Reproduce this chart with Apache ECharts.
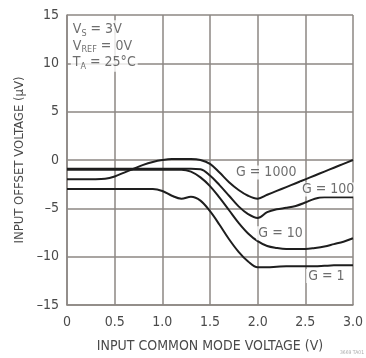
<!DOCTYPE html>
<html>
<head>
<meta charset="utf-8">
<script src="https://cdn.jsdelivr.net/npm/echarts@6/dist/echarts.min.js"></script>
<style>
html,body{margin:0;padding:0;background:#fff;}
#chart{width:366px;height:358px;}
</style>
</head>
<body>
<div id="chart"></div>
<script>
// Input common mode voltage (V)
const vcm = [0,0.1,0.2,0.3,0.4,0.5,0.6,0.7,0.8,0.9,1.0,1.1,1.2,1.3,1.4,1.5,1.6,1.7,1.8,1.9,2.0,2.1,2.2,2.3,2.4,2.5,2.6,2.7,2.8,2.9,3.0];
// Input offset voltage (uV) per gain
const g1000 = [-2.0,-2.0,-2.0,-2.0,-1.95,-1.7,-1.3,-0.9,-0.5,-0.2,0,0.1,0.1,0.1,0,-0.4,-1.3,-2.3,-3.1,-3.7,-4.0,-3.6,-3.2,-2.8,-2.4,-2.0,-1.6,-1.2,-0.8,-0.4,0];
const g100 = [-0.9,-0.9,-0.9,-0.9,-0.9,-0.9,-0.9,-0.9,-0.9,-0.9,-0.9,-0.9,-0.9,-0.9,-0.95,-1.6,-2.6,-3.7,-4.8,-5.6,-6.0,-5.4,-5.1,-4.95,-4.75,-4.4,-4.0,-3.85,-3.85,-3.85,-3.85];
const g10 = [-1.0,-1.0,-1.0,-1.0,-1.0,-1.0,-1.0,-1.0,-1.0,-1.0,-1.0,-1.0,-1.0,-1.2,-1.8,-2.7,-3.9,-5.2,-6.5,-7.6,-8.4,-8.9,-9.1,-9.2,-9.2,-9.2,-9.1,-8.95,-8.7,-8.45,-8.1];
const g1 = [-3.0,-3.0,-3.0,-3.0,-3.0,-3.0,-3.0,-3.0,-3.0,-3.0,-3.2,-3.7,-4.0,-3.8,-4.2,-5.3,-6.7,-8.2,-9.5,-10.5,-11.1,-11.1,-11.05,-11.0,-11.0,-11.0,-11.0,-10.95,-10.9,-10.9,-10.9];
// Curve labels: [x, y, text]
const curveLabels = [[2.09,-1.29,'G = 1000'],[2.74,-3.04,'G = 100'],[2.24,-7.58,'G = 10'],[2.72,-12.0,'G = 1']];
// Axis ticks
const xTicks = {min:0,max:3,interval:0.5};
const yTicks = {min:-15,max:15,interval:5};

const FONT = '"DejaVu Sans Condensed","Liberation Sans Narrow",sans-serif';
const TXT = '#4a4a4a';
const GRID = '#8c8783';

function pairs(ys){ return vcm.map((x,i)=>[x,ys[i]]); }
function lineSeries(ys){
  return {type:'line',data:pairs(ys),smooth:0.35,showSymbol:false,symbol:'none',
    lineStyle:{color:'#1e1e1e',width:2},z:3,silent:true};
}

const chart = echarts.init(document.getElementById('chart'),null,{renderer:'canvas'});
chart.setOption({
  animation:false,
  backgroundColor:'#fff',
  grid:{left:67,right:9,top:15,bottom:52,show:false},
  xAxis:{type:'value',min:xTicks.min,max:xTicks.max,interval:xTicks.interval,
    name:'INPUT COMMON MODE VOLTAGE (V)',nameLocation:'middle',nameGap:34,
    nameTextStyle:{color:TXT,fontFamily:FONT,fontSize:14},
    axisLine:{show:true,onZero:false,lineStyle:{color:GRID,width:1.5}},
    axisTick:{show:false},
    axisLabel:{color:TXT,fontFamily:FONT,fontSize:14,margin:10,
      formatter:v=>v===0?'0':v.toFixed(1)},
    splitLine:{show:true,lineStyle:{color:GRID,width:1.5}}},
  yAxis:{type:'value',min:yTicks.min,max:yTicks.max,interval:yTicks.interval,
    name:'INPUT OFFSET VOLTAGE (µV)',nameLocation:'middle',nameGap:40,
    nameTextStyle:{color:TXT,fontFamily:FONT,fontSize:13},
    axisLine:{show:true,onZero:false,lineStyle:{color:GRID,width:1.5}},
    axisTick:{show:false},
    axisLabel:{color:TXT,fontFamily:FONT,fontSize:14,margin:8,
      formatter:v=>v<0?'\u2013'+(-v):String(v)},
    splitLine:{show:true,lineStyle:{color:GRID,width:1.5}}},
  series:[
    lineSeries(g1000),lineSeries(g100),lineSeries(g10),lineSeries(g1),
    {type:'scatter',symbolSize:0,z:5,silent:true,
      data:curveLabels.map(d=>({value:[d[0],d[1]],name:d[2]})),
      label:{show:true,position:'inside',formatter:p=>p.name,color:TXT,
        fontFamily:FONT,fontSize:14,backgroundColor:'#fff',padding:[0,2]}},
    {type:'scatter',symbolSize:0,z:5,silent:true,
      data:[{value:[0.04,11.8]}],
      label:{show:true,position:'right',distance:0,color:TXT,fontFamily:FONT,fontSize:14,
        backgroundColor:'#fff',padding:[1,2],lineHeight:16.5,
        formatter:'{a|V}{s|S}{a| = 3V}\n{a|V}{s|REF}{a| = 0V}\n{a|T}{s|A}{a| = 25°C}',
        rich:{a:{color:TXT,fontFamily:FONT,fontSize:14,lineHeight:16.5},
              s:{color:TXT,fontFamily:FONT,fontSize:9,lineHeight:16.5,verticalAlign:'bottom',padding:[6,0,0,0]}}}}
  ],
  graphic:[{type:'text',right:2,bottom:3,style:{text:'3669 TA01',fill:'#aaa',fontSize:5,fontFamily:FONT}}]
});
</script>
</body>
</html>
